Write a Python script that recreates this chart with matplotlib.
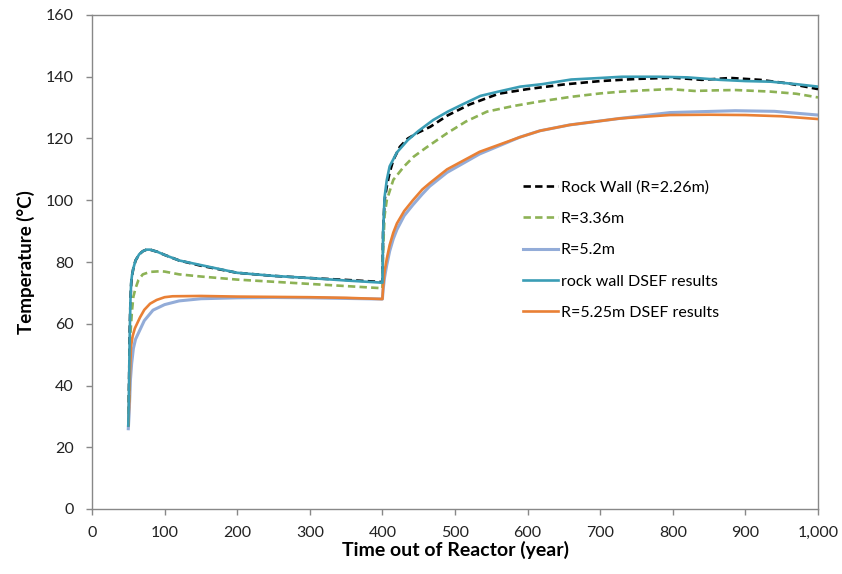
import matplotlib.pyplot as plt
from matplotlib.ticker import FixedLocator

plt.rcParams['font.family'] = ['Lato', 'DejaVu Sans']

# Rock Wall (R=2.26m), black dashed
rock_x = [50, 51, 52, 53, 54, 55, 57, 60, 65, 70, 75, 80, 90, 100, 120, 150, 200, 250, 300,
          350, 400, 401, 403, 406, 410, 415, 424, 435, 450, 466, 490, 520, 560, 600, 650, 700,
          750, 800, 840, 880, 920, 960, 1000]
rock_y = [27, 40, 58, 68, 73, 75.5, 78, 80.5, 82.5, 83.5, 84, 84, 83.3, 82.3, 80.5, 78.8, 76.5,
          75.5, 74.8, 74.2, 73.5, 90, 100, 104.4, 109, 113, 117.3, 120, 122, 123.8, 127.5, 131,
          134.5, 136, 137.5, 138.6, 139.3, 139.7, 139, 139.6, 139, 137.8, 136]

# R=3.36m, green dashed
r336_x = [50, 51, 52, 53, 55, 57, 60, 64, 70, 80, 94, 100, 120, 150, 200, 250, 300, 350, 400,
          401, 403, 406, 415, 430, 443, 460, 489, 515, 544, 580, 617, 660, 700, 730, 760, 796,
          830, 860, 886, 934, 970, 1000]
r336_y = [27, 36, 48, 57, 64, 68.8, 71.5, 74.2, 76, 76.8, 77, 76.9, 76, 75.3, 74.3, 73.6, 72.9,
          72.2, 71.5, 84, 95, 100, 106.6, 111, 114.1, 117, 121.7, 125.5, 128.7, 130.5, 132,
          133.5, 134.6, 135.2, 135.6, 136, 135.4, 135.6, 135.7, 135.2, 134.5, 133.3]

# R=5.2m, light blue
r52_x = [50, 51, 52, 53, 54.6, 57, 60, 66, 72, 84, 100, 120, 150, 200, 250, 300, 350, 400, 401,
         403, 406, 410, 415, 420, 430, 442, 455, 465, 489, 534, 589, 617, 658, 727, 796, 840,
         886, 940, 1000]
r52_y = [26, 30, 36, 42, 47, 52, 55, 58, 61, 64.4, 66.2, 67.4, 68.1, 68.4, 68.5, 68.4, 68.2, 68,
         71, 75, 79, 83.5, 87.5, 90.5, 95, 98.5, 102, 104.5, 109, 115, 120.4, 122.5, 124.4,
         126.5, 128.4, 128.7, 129, 128.8, 127.6]

# rock wall DSEF results, teal
dsef_rock_x = [50, 51, 52, 53, 54, 55, 57, 60, 65, 70, 75, 80, 90, 100, 120, 150, 200, 250, 300,
               350, 400, 401, 403, 406, 410, 420, 435, 450, 470, 490, 510, 535, 560, 590, 620,
               660, 700, 730, 780, 820, 865, 900, 935, 970, 1000]
dsef_rock_y = [27, 40, 57, 68, 73.5, 75.5, 78, 80.5, 82.5, 83.5, 84, 84, 83.3, 82.3, 80.5, 79,
               76.5, 75.5, 74.8, 74, 73.3, 90, 101, 106.5, 111, 115.5, 119.5, 122.5, 126, 128.7,
               131, 133.8, 135.2, 136.8, 137.6, 139.1, 139.6, 140, 140, 139.8, 139, 138.6, 138.4,
               137.6, 136.8]

# R=5.25m DSEF results, orange
dsef_525_x = [50, 51, 52, 53.7, 56, 59, 62, 66, 72, 80, 89, 100, 111, 150, 200, 250, 300, 350,
              400, 401, 403, 406, 410, 415, 420, 430, 442, 455, 465, 489, 534, 589, 617, 658,
              727, 796, 850, 900, 950, 1000]
dsef_525_y = [27, 33, 42, 52.6, 56, 58.5, 60, 62, 64.5, 66.5, 67.7, 68.6, 68.9, 69, 68.8, 68.7,
              68.6, 68.4, 68, 72, 77, 81, 85.5, 89.5, 92.5, 96.5, 100, 103.5, 105.5, 110, 115.7,
              120.4, 122.5, 124.4, 126.5, 127.6, 127.7, 127.6, 127.2, 126.3]

x_ticks = [0, 100, 200, 300, 400, 500, 600, 700, 800, 900, 1000]
x_tick_labels = ['0', '100', '200', '300', '400', '500', '600', '700', '800', '900', '1,000']
y_ticks = [0, 20, 40, 60, 80, 100, 120, 140, 160]

fig = plt.figure(figsize=(8.42, 5.74), dpi=100)
ax = fig.add_axes([92 / 842, 1 - 509 / 574, 726 / 842, 494 / 574])

lw = 1.9
ax.plot(rock_x, rock_y, color='black', lw=lw, dashes=(2.8, 1.6), label='Rock Wall (R=2.26m)', zorder=3)
ax.plot(r336_x, r336_y, color='#8DB255', lw=lw, dashes=(2.8, 1.6), label='R=3.36m', zorder=3)
ax.plot(r52_x, r52_y, color='#93ACD8', lw=lw + 0.3, label='R=5.2m', zorder=2)
ax.plot(dsef_rock_x, dsef_rock_y, color='#3A9DB5', lw=lw, label='rock wall DSEF results', zorder=4)
ax.plot(dsef_525_x, dsef_525_y, color='#E98035', lw=lw, label='R=5.25m DSEF results', zorder=3)

ax.set_xlim(0, 1000)
ax.set_ylim(0, 160)
ax.xaxis.set_major_locator(FixedLocator(x_ticks))
ax.set_xticklabels(x_tick_labels)
ax.yaxis.set_major_locator(FixedLocator(y_ticks))

for s in ax.spines.values():
    s.set_color('#888888')
    s.set_linewidth(1.0)
ax.tick_params(direction='out', length=4, width=1, color='#888888', labelsize=11.5,
               labelcolor='#222222')
ax.tick_params(axis='x', pad=8)
ax.tick_params(axis='y', pad=9)

ax.set_xlabel('Time out of Reactor (year)', fontsize=14, fontweight='bold', labelpad=1)
ax.set_ylabel('Temperature (°C)', fontsize=13.5, fontweight='bold', labelpad=8)

ax.legend(loc='upper left', bbox_to_anchor=(0.594, 0.666), frameon=False, fontsize=11.5,
          handlelength=2.2, handletextpad=0.15, labelspacing=1.08, borderpad=0, borderaxespad=0)

fig.savefig('out.png', dpi=100)
